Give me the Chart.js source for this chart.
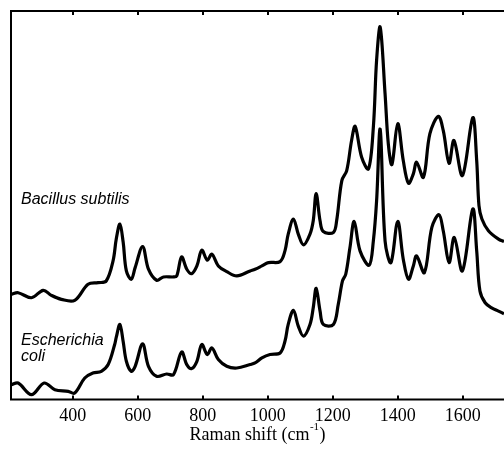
<!DOCTYPE html>
<html>
<head>
<meta charset="utf-8">
<script src="https://cdn.jsdelivr.net/npm/chart.js@4"></script>
<style>
  html, body { margin: 0; padding: 0; background: #fff; }
  #wrap { width: 504px; height: 451px; }
</style>
</head>
<body>
<div id="wrap"><canvas id="ramanChart" width="504" height="451"></canvas></div>
<script>
// Raman shift (cm-1) and intensity (arb. units)
const bacillusShift = [211, 232, 273, 309, 334, 365, 406, 447, 478, 503, 524, 534, 545, 555, 565, 580, 592, 615, 633, 658, 679, 710, 720, 735, 751, 766, 782, 797, 814, 828, 848, 874, 905, 946, 961, 982, 1002, 1038, 1053, 1063, 1079, 1094, 1110, 1130, 1140, 1149, 1161, 1171, 1202, 1212, 1228, 1243, 1258, 1269, 1289, 1310, 1325, 1335, 1346, 1361, 1371, 1382, 1400, 1417, 1433, 1448, 1458, 1479, 1499, 1525, 1540, 1558, 1573, 1599, 1631, 1643, 1650, 1659, 1679, 1710, 1727];
const bacillusIntensity = [104.7, 106.3, 101.3, 108.7, 103.7, 99.7, 98.7, 114.7, 116.3, 118, 138, 160, 174.7, 157, 128, 119.7, 131.3, 152.3, 129.7, 118.7, 122, 122, 123, 142, 129.7, 125.3, 133, 148.7, 138.7, 144.7, 133, 127.3, 123, 128, 129.7, 133, 136.3, 137.3, 148, 164.7, 179.7, 164.7, 154, 164.7, 178, 205, 178, 167.3, 166.3, 178, 218, 228, 258, 272, 241.3, 229.7, 271.3, 338, 371, 304.7, 254.7, 234, 274.7, 238, 215.3, 224.7, 236.3, 221.3, 264.7, 282, 268, 235.3, 258, 223, 280.7, 238, 193, 179.7, 168, 159.7, 157.3];

const ecoliShift = [211, 232, 273, 312, 345, 386, 406, 437, 462, 488, 509, 529, 534, 545, 555, 565, 580, 592, 615, 633, 658, 689, 710, 735, 751, 766, 782, 797, 814, 828, 848, 874, 905, 946, 961, 982, 1007, 1038, 1053, 1063, 1079, 1094, 1110, 1130, 1140, 1149, 1161, 1171, 1202, 1217, 1230, 1240, 1253, 1266, 1284, 1312, 1325, 1335, 1346, 1361, 1379, 1400, 1417, 1433, 1448, 1458, 1482, 1505, 1527, 1540, 1558, 1574, 1599, 1631, 1643, 1653, 1669, 1689, 1710, 1727];
const ecoliIntensity = [14.7, 16.3, 4.7, 16.3, 9.7, 8, 6.3, 21.3, 26.3, 28, 34.7, 54.7, 62, 74.7, 58, 38, 28, 33, 55.3, 33, 23, 25.3, 24.7, 47.3, 34.7, 30.7, 38, 54.7, 44.7, 51.3, 39.7, 33, 31.3, 34.7, 36.3, 41.3, 44.7, 46.3, 58, 74.7, 88.7, 73, 63, 74.7, 91.3, 110.7, 88, 74.7, 74.7, 94.7, 118, 124.7, 151.3, 177.3, 148, 133.7, 158, 198, 269, 158, 136.3, 177.3, 139.7, 119.7, 133, 143, 126.3, 171.3, 184, 168, 136.3, 161.3, 128, 189.7, 148, 108, 96.3, 91.3, 88, 85.3];

const tickValues = [400, 600, 800, 1000, 1200, 1400, 1600];
const speciesLabels = [['Bacillus subtilis'], ['Escherichia', 'coli']];

const toPoints = (xs, ys) => xs.map((x, i) => ({ x: x, y: ys[i] }));

// frame, inward ticks, species names and the axis title with superscript
const framePlugin = {
    id: 'frame',
    afterDraw(chart) {
        const c = chart.ctx;
        const a = chart.chartArea;
        const xs = chart.scales.x;
        c.save();
        c.strokeStyle = '#000';
        c.lineWidth = 2;
        c.beginPath();
        c.moveTo(a.right + 2, a.top);
        c.lineTo(a.left, a.top);
        c.lineTo(a.left, a.bottom);
        c.lineTo(a.right + 2, a.bottom);
        c.stroke();
        tickValues.forEach(v => {
            const px = Math.round(xs.getPixelForValue(v));
            c.beginPath();
            c.moveTo(px, a.top);
            c.lineTo(px, a.top + 4);
            c.moveTo(px, a.bottom);
            c.lineTo(px, a.bottom - 4);
            c.stroke();
        });

        c.fillStyle = '#000';
        c.textAlign = 'left';
        c.textBaseline = 'alphabetic';
        c.font = 'italic 16px "Liberation Sans", Arial, sans-serif';
        c.fillText(speciesLabels[0][0], a.left + 10, 203.5);
        c.fillText(speciesLabels[1][0], a.left + 10, 344.5);
        c.fillText(speciesLabels[1][1], a.left + 10, 360.5);

        // axis title: Raman shift (cm^-1)
        const base = 'Raman shift (cm';
        const sup = '-1';
        const close = ')';
        c.font = '18px "Liberation Serif", "Times New Roman", serif';
        const wBase = c.measureText(base).width;
        const wClose = c.measureText(close).width;
        c.font = '11px "Liberation Serif", "Times New Roman", serif';
        const wSup = c.measureText(sup).width;
        const total = wBase + wSup + wClose + 1;
        let x0 = (a.left + a.right) / 2 - total / 2;
        const y0 = 440;
        c.font = '18px "Liberation Serif", "Times New Roman", serif';
        c.fillText(base, x0, y0);
        c.font = '11px "Liberation Serif", "Times New Roman", serif';
        c.fillText(sup, x0 + wBase + 0.5, y0 - 10);
        c.font = '18px "Liberation Serif", "Times New Roman", serif';
        c.fillText(close, x0 + wBase + wSup + 1, y0);
        c.restore();
    }
};

const ctx = document.getElementById('ramanChart').getContext('2d');

const ramanChart = new Chart(ctx, {
    type: 'line',
    data: {
        datasets: [{
            label: 'Bacillus subtilis',
            data: toPoints(bacillusShift, bacillusIntensity),
            borderColor: '#000',
            borderWidth: 3.2,
            pointRadius: 0,
            tension: 0.35,
            fill: false
        }, {
            label: 'Escherichia coli',
            data: toPoints(ecoliShift, ecoliIntensity),
            borderColor: '#000',
            borderWidth: 3.2,
            pointRadius: 0,
            tension: 0.35,
            fill: false
        }]
    },
    options: {
        responsive: false,
        animation: false,
        events: [],
        layout: {
            padding: { left: 11, top: 11, right: 0, bottom: 18 }
        },
        plugins: {
            legend: { display: false },
            tooltip: { enabled: false },
            title: { display: false }
        },
        scales: {
            x: {
                type: 'linear',
                min: 210,
                max: 1727,
                grid: { display: false, drawTicks: false },
                border: { display: false },
                afterBuildTicks: axis => {
                    axis.ticks = tickValues.map(v => ({ value: v }));
                },
                ticks: {
                    color: '#000',
                    padding: 6,
                    maxRotation: 0,
                    callback: v => String(v),
                    font: { family: '"Liberation Serif", "Times New Roman", serif', size: 18 }
                }
            },
            y: {
                display: false,
                min: 0,
                max: 387
            }
        }
    },
    plugins: [framePlugin]
});
</script>
</body>
</html>
